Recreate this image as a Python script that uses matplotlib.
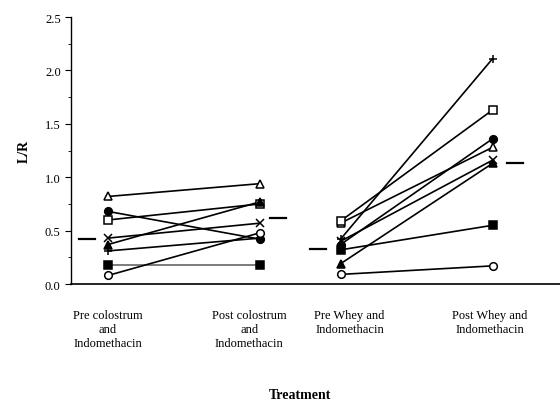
import numpy as np
import matplotlib
matplotlib.use("Agg")
import matplotlib.pyplot as plt
from matplotlib.ticker import MultipleLocator, FormatStrFormatter

plt.rcParams["font.family"] = ["Liberation Serif", "DejaVu Serif"]

# L/R ratios per subject, one marker style per subject
markers = ["^", "o", "s", "x", "^", "+", "s", "o"]
filled = [False, True, False, True, True, True, True, False]

pre_colostrum = [0.82, 0.68, 0.60, 0.43, 0.37, 0.31, 0.18, 0.08]
post_colostrum = [0.94, 0.42, 0.75, 0.57, 0.77, 0.43, 0.18, 0.48]
pre_whey = [0.57, 0.37, 0.59, 0.40, 0.19, 0.42, 0.32, 0.09]
post_whey = [1.28, 1.36, 1.63, 1.16, 1.13, 2.11, 0.55, 0.17]

group_means = [0.42, 0.62, 0.33, 1.13]

group_labels = [
    "Pre colostrum\nand\nIndomethacin",
    "Post colostrum\nand\nIndomethacin",
    "Pre Whey and\nIndomethacin",
    "Post Whey and\nIndomethacin",
]

xpos = np.array([1.0, 2.0, 2.53, 3.53])
label_x = [1.0, 1.93, 2.59, 3.51]
mean_offset = [-0.14, 0.12, -0.15, 0.15]

fig = plt.figure(figsize=(5.6, 4.02), dpi=100)
ax = fig.add_axes([0.127, 0.291, 0.873, 0.664])

pairs = [(pre_colostrum, post_colostrum, xpos[0], xpos[1]),
         (pre_whey, post_whey, xpos[2], xpos[3])]
for i in range(len(markers)):
    face = "black" if filled[i] else "white"
    for k, (a, b, x0, x1) in enumerate(pairs):
        # the flat filled-square line in the colostrum pair prints lighter
        lcol = "#666666" if (k == 0 and markers[i] == "s" and filled[i]) else "black"
        ax.plot([x0, x1], [a[i], b[i]], color=lcol, lw=1.2, zorder=2)
        ax.plot([x0, x1], [a[i], b[i]], ls="none", marker=markers[i],
                ms=5.5, mfc=face, mec="black", mew=1.1, zorder=3)

# group means as short dashes beside each column
for x, off, m in zip(xpos, mean_offset, group_means):
    ax.plot([x + off - 0.053, x + off + 0.053], [m, m], color="black", lw=1.6)

for x, lab in zip(label_x, group_labels):
    ax.text(x, -0.23, lab, ha="center", va="top", fontsize=9, linespacing=1.25)

fig.text(0.536, 0.015, "Treatment", ha="center", va="center",
         fontsize=10, fontweight="bold")
ax.set_ylabel("L/R", fontsize=10, fontweight="bold", labelpad=10)

ax.set_xlim(0.757, 3.974)
ax.set_ylim(0, 2.5)
ax.yaxis.set_major_locator(MultipleLocator(0.5))
ax.yaxis.set_minor_locator(MultipleLocator(0.25))
ax.yaxis.set_major_formatter(FormatStrFormatter("%.1f"))
ax.tick_params(axis="y", which="major", direction="out", length=4, labelsize=9)
ax.tick_params(axis="y", which="minor", direction="out", length=2)
ax.set_xticks([])
for side in ["top", "right"]:
    ax.spines[side].set_visible(False)
ax.spines["left"].set_linewidth(1.0)
ax.spines["bottom"].set_linewidth(1.2)

fig.savefig("out.png", dpi=100, facecolor="white")
